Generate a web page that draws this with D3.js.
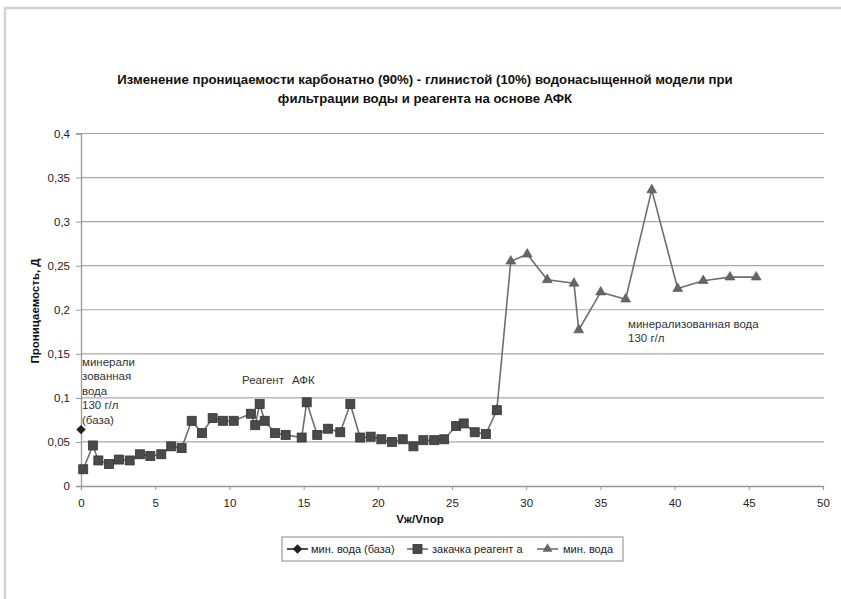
<!DOCTYPE html>
<html><head><meta charset="utf-8">
<script src="https://cdn.jsdelivr.net/npm/d3@7"></script>
<style>
body{margin:0;background:#fff;}
text{font-family:"Liberation Sans",Arial,sans-serif;}
</style></head><body>
<svg id="c" width="841" height="599"></svg>
<script>
const titleLines = ["Изменение проницаемости карбонатно (90%) - глинистой (10%) водонасыщенной модели при", "фильтрации воды и реагента на основе АФК"];
const yTicks = [0, 0.05, 0.1, 0.15, 0.2, 0.25, 0.3, 0.35, 0.4];
const yTickLabels = ["0", "0,05", "0,1", "0,15", "0,2", "0,25", "0,3", "0,35", "0,4"];
const xTicks = [0, 5, 10, 15, 20, 25, 30, 35, 40, 45, 50];
const seriesNames = ["мин. вода (база)", "закачка реагент а", "мин. вода"];

const baseX = [0];
const baseY = [0.064];

const reagX = [0.15, 0.8, 1.17, 1.89, 2.56, 3.28, 3.97, 4.67, 5.41, 6.08, 6.78, 7.46, 8.15, 8.87, 9.56, 10.29, 11.45, 11.74, 12.04, 12.38, 13.07, 13.79, 14.87, 15.21, 15.92, 16.65, 17.47, 18.15, 18.81, 19.52, 20.24, 20.96, 21.68, 22.4, 23.07, 23.8, 24.47, 25.28, 25.79, 26.53, 27.28, 28.02];
const reagY = [0.019, 0.046, 0.029, 0.025, 0.030, 0.029, 0.036, 0.034, 0.036, 0.045, 0.043, 0.074, 0.060, 0.077, 0.074, 0.074, 0.082, 0.069, 0.093, 0.074, 0.060, 0.058, 0.055, 0.095, 0.058, 0.065, 0.061, 0.093, 0.055, 0.056, 0.053, 0.050, 0.053, 0.045, 0.052, 0.052, 0.053, 0.068, 0.071, 0.061, 0.059, 0.086];

const waterX = [28.02, 28.96, 30.07, 31.42, 33.22, 33.54, 35.02, 36.7, 38.46, 40.21, 41.93, 43.73, 45.5];
const waterY = [0.086, 0.255, 0.263, 0.234, 0.230, 0.177, 0.220, 0.212, 0.336, 0.224, 0.233, 0.237, 0.237];

const svg = d3.select("#c");
const L = 81, R = 823, T = 133.5, B = 486;
const x = d3.scaleLinear().domain([0, 50]).range([L, R]);
const y = d3.scaleLinear().domain([0, 0.4]).range([B, T]);

// outer border
svg.append("path").attr("d", "M5,599 V8 H841").attr("fill", "none").attr("stroke", "#d4d4d4").attr("stroke-width", 2.5);

// title
svg.append("text").attr("x", 425).attr("y", 83.5).attr("text-anchor", "middle")
  .attr("font-size", 13.2).attr("font-weight", "bold").attr("fill", "#111")
  .selectAll("tspan").data(titleLines).join("tspan")
  .attr("x", 425).attr("dy", (d, i) => i ? 19 : 0).text(d => d);

// gridlines
svg.append("g").selectAll("line").data(yTicks.slice(1)).join("line")
  .attr("x1", L).attr("x2", R + 1).attr("y1", d => y(d)).attr("y2", d => y(d))
  .attr("stroke", "#a8a8a8").attr("stroke-width", 1.2);

// y axis
const yAxis = d3.axisLeft(y).tickValues(yTicks).tickSize(5).tickFormat((d, i) => yTickLabels[i]);
const gy = svg.append("g").attr("transform", `translate(${L},0)`).call(yAxis);
gy.select(".domain").attr("stroke", "#999").attr("stroke-width", 1.3);
gy.selectAll(".tick line").attr("stroke", "#999");
gy.selectAll(".tick text").attr("font-size", 11.5).attr("fill", "#222").attr("font-family", "Liberation Sans, Arial, sans-serif").attr("x", -11);

// x axis
const xAxis = d3.axisBottom(x).tickValues(xTicks).tickSize(4).tickFormat(d3.format("d"));
const gx = svg.append("g").attr("transform", `translate(0,${B})`).call(xAxis);
gx.select(".domain").attr("stroke", "#999").attr("stroke-width", 1.3);
gx.selectAll(".tick line").attr("stroke", "#999");
gx.selectAll(".tick text").attr("font-size", 11.5).attr("fill", "#222").attr("font-family", "Liberation Sans, Arial, sans-serif").attr("dy", "1.2em");

// axis titles
svg.append("text").attr("x", 420).attr("y", 523).attr("text-anchor", "middle")
  .attr("font-size", 11.5).attr("font-weight", "bold").attr("fill", "#111").text("Vж/Vпор");
svg.append("text").attr("transform", "translate(39,311) rotate(-90)").attr("text-anchor", "middle")
  .attr("font-size", 11.5).attr("font-weight", "bold").attr("fill", "#111").text("Проницаемость, Д");

const lineGen = d3.line().x(d => x(d[0])).y(d => y(d[1]));
const lineColor = "#6e6e6e";
const water = waterX.map((v, i) => [v, waterY[i]]);
const reag = reagX.map((v, i) => [v, reagY[i]]);
const base = baseX.map((v, i) => [v, baseY[i]]);

svg.append("path").datum(water).attr("d", lineGen).attr("fill", "none").attr("stroke", lineColor).attr("stroke-width", 1.6);
svg.append("path").datum(reag).attr("d", lineGen).attr("fill", "none").attr("stroke", lineColor).attr("stroke-width", 1.6);

const tri = d3.symbol().type(d3.symbolTriangle).size(42);
svg.append("g").selectAll("path").data(water).join("path")
  .attr("transform", d => `translate(${x(d[0])},${y(d[1])})`).attr("d", tri)
  .attr("fill", "#666").attr("stroke", "#555").attr("stroke-width", 0.6);

svg.append("g").selectAll("rect").data(reag).join("rect")
  .attr("x", d => x(d[0]) - 4.5).attr("y", d => y(d[1]) - 4.5).attr("width", 9).attr("height", 9)
  .attr("fill", "#4a4a4a").attr("stroke", "#333").attr("stroke-width", 0.8);

const dia = d3.symbol().type(d3.symbolDiamond).size(40);
svg.append("g").selectAll("path").data(base).join("path")
  .attr("transform", d => `translate(${x(d[0])},${y(d[1])}) scale(1.4,0.8)`).attr("d", dia)
  .attr("fill", "#222");

// annotations
const ann = svg.append("g").attr("font-size", 11.5).attr("fill", "#333");
ann.append("text").attr("x", 82).attr("y", 366).selectAll("tspan")
  .data(["минерали", "зованная", "вода", "130 г/л", "(база)"]).join("tspan")
  .attr("x", 82).attr("dy", (d, i) => i ? 14.4 : 0).text(d => d);
ann.append("text").attr("x", 242).attr("y", 384).text("Реагент");
ann.append("text").attr("x", 292).attr("y", 384).text("АФК");
ann.append("text").attr("x", 628).attr("y", 328).selectAll("tspan")
  .data(["минерализованная вода", "130 г/л"]).join("tspan")
  .attr("x", 628).attr("dy", (d, i) => i ? 14.4 : 0).text(d => d);

// legend
const lg = svg.append("g");
lg.append("rect").attr("x", 282).attr("y", 537).attr("width", 341).attr("height", 24)
  .attr("fill", "#fff").attr("stroke", "#888").attr("stroke-width", 1);
const items = [{x: 287, t: 311}, {x: 407, t: 432}, {x: 537, t: 563}];
items.forEach((it, i) => {
  const g = lg.append("g").attr("transform", `translate(${it.x},549)`);
  g.append("line").attr("x1", 0).attr("x2", 21).attr("stroke", i === 0 ? "#222" : lineColor).attr("stroke-width", 1.6);
  if (i === 0) g.append("path").attr("transform", "translate(10.5,0) scale(1.4,0.8)").attr("d", dia).attr("fill", "#222");
  if (i === 1) g.append("rect").attr("x", 6).attr("y", -4.5).attr("width", 9).attr("height", 9).attr("fill", "#4a4a4a").attr("stroke", "#333").attr("stroke-width", 0.8);
  if (i === 2) g.append("path").attr("transform", "translate(10.5,0)").attr("d", tri).attr("fill", "#666");
  g.append("text").attr("x", it.t - it.x).attr("y", 4).attr("font-size", 11).attr("fill", "#222").text(seriesNames[i]);
});
</script>
</body></html>
